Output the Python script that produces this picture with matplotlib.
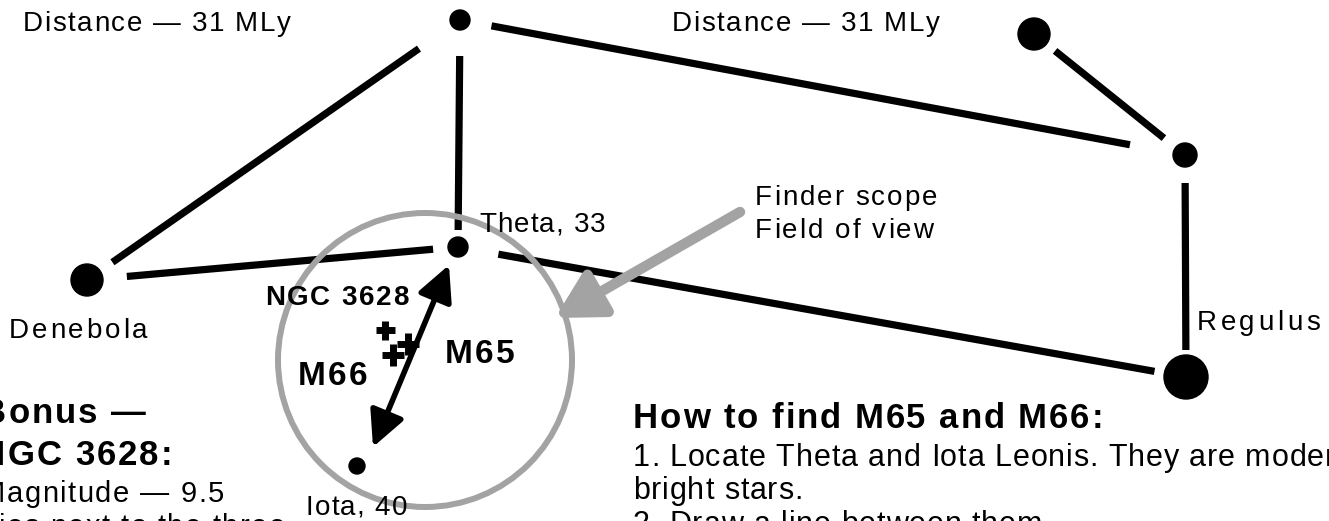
import matplotlib
matplotlib.use('Agg')
import matplotlib.pyplot as plt
from matplotlib.patches import Circle
from matplotlib.font_manager import FontProperties
import numpy as np

plt.rcParams['font.family'] = ['Liberation Sans', 'DejaVu Sans']

# star positions (chart pixel coords, y down) and sizes (radius)
star_names = ['top', 'upper_right', 'right_mid', 'regulus', 'theta', 'iota', 'denebola']
star_x = [460, 1034, 1185, 1186, 458, 357, 87]
star_y = [20, 34, 155, 377, 247, 466, 280]
star_r = [10, 16, 12, 22, 10, 8, 16]

# constellation lines: (from, to, gap at start, gap at end)
links = [('denebola', 'top', 31, 50),
         ('top', 'theta', 36, 17),
         ('top', 'right_mid', 32, 56),
         ('upper_right', 'right_mid', 27, 27),
         ('right_mid', 'regulus', 28, 27),
         ('theta', 'regulus', 41, 32),
         ('denebola', 'theta', 40, 25)]

# finder circle
fov_center = (425, 360)
fov_radius = 147

# galaxies (crosses)
cross_x = [385, 393, 408]
cross_y = [330, 355, 344]
cross_size = [19, 23, 23]

# labels: text, x, baseline y, size, tracking(px), weight
labels = [('Distance \u2014 31 MLy', 23, 31, 20, 1.6, 'normal'),
          ('Distance \u2014 31 MLy', 672, 31, 20, 1.6, 'normal'),
          ('Theta, 33', 479, 232, 20, 1.2, 'normal'),
          ('Finder scope', 755, 205, 20, 2.0, 'normal'),
          ('Field of view', 755, 238, 20, 2.0, 'normal'),
          ('Denebola', 9, 338, 20, 2.8, 'normal'),
          ('Regulus', 1197, 330, 20, 3.5, 'normal'),
          ('Iota, 40', 306, 515, 20, 1.2, 'normal'),
          ('NGC 3628', 265, 305, 20, 1.8, 'bold'),
          ('M66', 298, 385, 24, 2.0, 'bold'),
          ('M65', 445, 363, 24, 2.0, 'bold'),
          ('Bonus \u2014', -19, 423, 25, 2.0, 'bold'),
          ('NGC 3628:', -20, 465, 25, 2.0, 'bold'),
          ('Magnitude \u2014 9.5', -19, 502, 21, 1.5, 'normal'),
          ('Lies next to the three', -19, 535, 21, 1.5, 'normal'),
          ('How to find M65 and M66:', 633, 428, 25, 1.9, 'bold'),
          ('1. Locate Theta and Iota Leonis. They are moderately', 633, 466, 22, 0.9, 'normal'),
          ('bright stars.', 633, 499, 22, 0.9, 'normal'),
          ('2. Draw a line between them.', 633, 533, 22, 0.9, 'normal')]

grey = '#a3a3a3'

fig = plt.figure(figsize=(13.29, 5.21), dpi=100)
ax = fig.add_axes([0, 0, 1, 1])
ax.set_xlim(0, 1329)
ax.set_ylim(521, 0)
ax.set_aspect('equal')
ax.axis('off')
renderer = fig.canvas.get_renderer()


def spaced_text(s, x, y, size, track, weight):
    # draw glyph by glyph to get the loose letter spacing of the original
    prop = FontProperties(family=['Liberation Sans', 'DejaVu Sans'], size=size, weight=weight)
    base = renderer.get_text_width_height_descent('XX', prop, ismath=False)[0]
    for ch in s:
        if ch != ' ':
            ax.text(x, y, ch, fontproperties=prop, va='baseline', ha='left', color='black')
        adv = renderer.get_text_width_height_descent('X' + ch + 'X', prop, ismath=False)[0] - base
        x += adv + track


pos = {n: np.array([x, y], float) for n, x, y in zip(star_names, star_x, star_y)}

for a, b, g1, g2 in links:
    p, q = pos[a], pos[b]
    d = (q - p) / np.linalg.norm(q - p)
    s, e = p + d * g1, q - d * g2
    ax.plot([s[0], e[0]], [s[1], e[1]], color='black', lw=5.2, solid_capstyle='butt')

for n, r in zip(star_names, star_r):
    ax.add_patch(Circle(pos[n], r, color='black', zorder=3))

ax.add_patch(Circle(fov_center, fov_radius, fill=False, ec=grey, lw=4.3, zorder=2))

for cx, cy, cs in zip(cross_x, cross_y, cross_size):
    ax.plot(cx, cy, marker='+', ms=cs * 0.72, mew=5, color='black', zorder=4)

# double arrow Theta <-> Iota
ax.annotate('', xy=(373, 447), xytext=(449, 265),
            arrowprops=dict(arrowstyle='<|-|>,head_length=0.9,head_width=0.45',
                            mutation_scale=24, lw=4, color='black', shrinkA=0, shrinkB=0),
            zorder=5)

# grey pointer to the field of view
ax.annotate('', xy=(555, 318), xytext=(740, 212),
            arrowprops=dict(arrowstyle='-|>,head_length=1.0,head_width=0.55',
                            mutation_scale=28, lw=7.5, color=grey, shrinkA=0, shrinkB=0),
            zorder=2)

for s, x, y, size, track, weight in labels:
    spaced_text(s, x, y, size, track, weight)

fig.savefig('out.png', dpi=100)
